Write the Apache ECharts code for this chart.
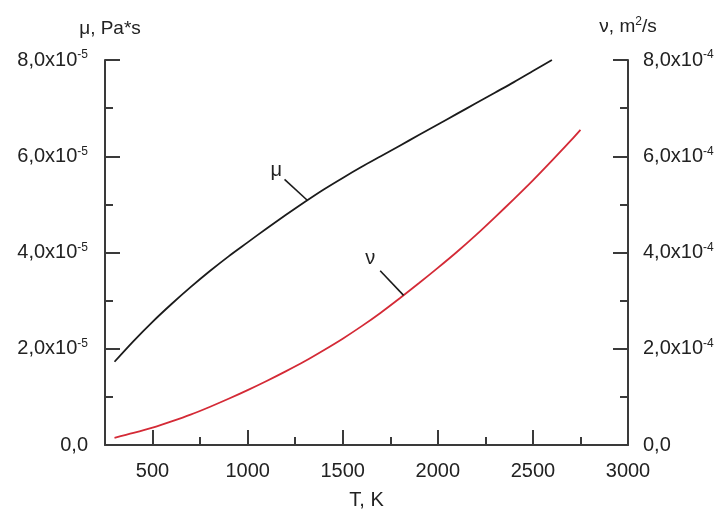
<!DOCTYPE html>
<html>
<head>
<meta charset="utf-8">
<style>
  html, body { margin: 0; padding: 0; background: #fff; }
  #chart { width: 721px; height: 511px; }
</style>
<script src="https://cdn.jsdelivr.net/npm/echarts@6/dist/echarts.min.js"></script>
</head>
<body>
<div id="chart"></div>
<script>
// Dynamic viscosity μ (units of 1e-5 Pa*s) versus temperature
const temperatureMu = [300, 400, 500, 600, 700, 800, 900, 1000, 1100, 1200, 1300, 1400,
  1500, 1600, 1700, 1800, 1900, 2000, 2100, 2200, 2300, 2400, 2500, 2600];
const viscosityMu = [1.73, 2.16, 2.56, 2.93, 3.28, 3.61, 3.92, 4.21, 4.50, 4.78, 5.05, 5.31,
  5.55, 5.78, 6.00, 6.22, 6.44, 6.66, 6.88, 7.10, 7.32, 7.54, 7.77, 8.00];

// Kinematic viscosity ν (units of 1e-4 m^2/s) versus temperature
const temperatureNu = [300, 400, 500, 600, 700, 800, 900, 1000, 1100, 1200, 1300, 1400,
  1500, 1600, 1700, 1800, 1900, 2000, 2100, 2200, 2300, 2400, 2500, 2600, 2700, 2750];
const viscosityNu = [0.15, 0.25, 0.36, 0.49, 0.63, 0.79, 0.96, 1.14, 1.33, 1.53, 1.74, 1.97,
  2.21, 2.47, 2.75, 3.05, 3.36, 3.68, 4.01, 4.36, 4.73, 5.11, 5.50, 5.91, 6.33, 6.55];

// Axis ticks
const xMajorTicks = [500, 1000, 1500, 2000, 2500, 3000];
const xMinorTicks = [750, 1250, 1750, 2250, 2750];
const MU_SCALE = 1e-5;
const NU_SCALE = 1e-4;

// Curve annotations: [T, value] pairs in the same units as the arrays above
const muLeader = [[1194, 5.52], [1315, 5.08]];
const muLabelAt = [1150, 5.70];
const nuLeader = [[1697, 3.62], [1820, 3.11]];
const nuLabelAt = [1645, 3.88];

const FONT = 'Liberation Sans, Arial, sans-serif';
const AXIS_COLOR = '#3a3a3a';

function expLabel(scale, exp) {
  return function (v) {
    const n = v / scale;
    if (Math.abs(n) < 1e-9) return '{b|0,0}';
    return '{b|' + n.toFixed(1).replace('.', ',') + 'x10}{s|' + exp + '}';
  };
}

const labelRich = {
  b: { fontSize: 20, fontFamily: FONT, color: '#222', lineHeight: 22 },
  s: { fontSize: 12, fontFamily: FONT, color: '#222', verticalAlign: 'top', lineHeight: 12 }
};

const chart = echarts.init(document.getElementById('chart'), null, { renderer: 'canvas' });

chart.setOption({
  animation: false,
  backgroundColor: '#fff',
  grid: { left: 105, right: 93, top: 60, bottom: 66, containLabel: false, outerBoundsMode: 'none' },
  xAxis: [
    {
      type: 'value', min: 250, max: 3000, position: 'bottom',
      name: 'T, K', nameLocation: 'middle', nameGap: 45,
      nameTextStyle: { fontSize: 20, fontFamily: FONT, color: '#222' },
      axisLine: { show: true, lineStyle: { color: AXIS_COLOR, width: 2 } },
      axisTick: { show: true, inside: true, length: 15, customValues: xMajorTicks,
        lineStyle: { color: AXIS_COLOR, width: 2 } },
      axisLabel: { show: true, customValues: xMajorTicks, margin: 16,
        formatter: (v) => String(Math.round(v)),
        fontSize: 20, fontFamily: FONT, color: '#222' },
      splitLine: { show: false }
    },
    {
      type: 'value', min: 250, max: 3000, position: 'bottom', offset: 0,
      axisLine: { show: false },
      axisTick: { show: true, inside: true, length: 8, customValues: xMinorTicks,
        lineStyle: { color: AXIS_COLOR, width: 2 } },
      axisLabel: { show: false },
      splitLine: { show: false }
    }
  ],
  yAxis: [
    {
      type: 'value', min: 0, max: 8 * MU_SCALE, interval: 2 * MU_SCALE, position: 'left',
      name: '{a|μ, Pa*s}', nameLocation: 'end', nameGap: 22,
      nameTextStyle: { rich: { a: { fontSize: 19, fontFamily: FONT, color: '#222' } }, padding: [0, 0, 0, 10] },
      axisLine: { show: true, lineStyle: { color: AXIS_COLOR, width: 2 } },
      axisTick: { show: true, inside: true, length: 15, lineStyle: { color: AXIS_COLOR, width: 2 } },
      minorTick: { show: true, splitNumber: 2, length: 8, lineStyle: { color: AXIS_COLOR, width: 2 } },
      axisLabel: { margin: 17, formatter: expLabel(MU_SCALE, '-5'), rich: labelRich },
      splitLine: { show: false }
    },
    {
      type: 'value', min: 0, max: 8 * NU_SCALE, interval: 2 * NU_SCALE, position: 'right',
      name: '{a|ν, m}{s|2}{a|/s}', nameLocation: 'end', nameGap: 22,
      nameTextStyle: { rich: {
        a: { fontSize: 19, fontFamily: FONT, color: '#222', lineHeight: 22 },
        s: { fontSize: 12, fontFamily: FONT, color: '#222', verticalAlign: 'top', lineHeight: 12 }
      }, padding: [0, 0, 0, 0] },
      axisLine: { show: true, lineStyle: { color: AXIS_COLOR, width: 2 } },
      axisTick: { show: true, inside: true, length: 15, lineStyle: { color: AXIS_COLOR, width: 2 } },
      minorTick: { show: true, splitNumber: 2, length: 8, lineStyle: { color: AXIS_COLOR, width: 2 } },
      axisLabel: { margin: 15, formatter: expLabel(NU_SCALE, '-4'), rich: labelRich },
      splitLine: { show: false }
    }
  ],
  series: [
    {
      name: 'μ', type: 'line', xAxisIndex: 0, yAxisIndex: 0,
      data: temperatureMu.map((t, i) => [t, viscosityMu[i] * MU_SCALE]),
      showSymbol: false, smooth: 0.3,
      lineStyle: { color: '#1b1b1b', width: 1.8 },
      markLine: {
        silent: true, symbol: ['none', 'none'],
        lineStyle: { color: '#1b1b1b', width: 1.6, type: 'solid' },
        label: { show: false },
        data: [[{ coord: [muLeader[0][0], muLeader[0][1] * MU_SCALE] },
                { coord: [muLeader[1][0], muLeader[1][1] * MU_SCALE] }]]
      },
      markPoint: {
        silent: true, symbol: 'circle', symbolSize: 1,
        itemStyle: { color: 'rgba(0,0,0,0)' },
        label: { show: true, position: 'inside', formatter: 'μ', fontSize: 20, fontFamily: FONT, color: '#222' },
        data: [{ coord: [muLabelAt[0], muLabelAt[1] * MU_SCALE] }]
      }
    },
    {
      name: 'ν', type: 'line', xAxisIndex: 0, yAxisIndex: 1,
      data: temperatureNu.map((t, i) => [t, viscosityNu[i] * NU_SCALE]),
      showSymbol: false, smooth: 0.3,
      lineStyle: { color: '#d42a36', width: 1.8 },
      markLine: {
        silent: true, symbol: ['none', 'none'],
        lineStyle: { color: '#1b1b1b', width: 1.6, type: 'solid' },
        label: { show: false },
        data: [[{ coord: [nuLeader[0][0], nuLeader[0][1] * NU_SCALE] },
                { coord: [nuLeader[1][0], nuLeader[1][1] * NU_SCALE] }]]
      },
      markPoint: {
        silent: true, symbol: 'circle', symbolSize: 1,
        itemStyle: { color: 'rgba(0,0,0,0)' },
        label: { show: true, position: 'inside', formatter: 'ν', fontSize: 20, fontFamily: FONT, color: '#222' },
        data: [{ coord: [nuLabelAt[0], nuLabelAt[1] * NU_SCALE] }]
      }
    }
  ]
});
</script>
</body>
</html>
